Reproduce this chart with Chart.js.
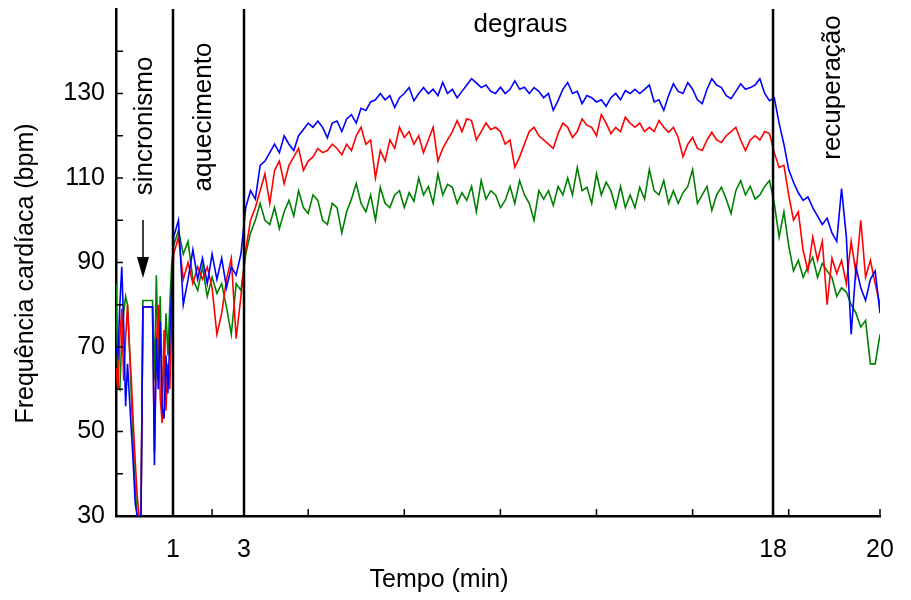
<!DOCTYPE html>
<html><head><meta charset="utf-8">
<script src="https://cdn.jsdelivr.net/npm/chart.js@4.4.1/dist/chart.umd.min.js"></script>
<style>html,body{margin:0;padding:0;background:#fff;}#wrap{width:911px;height:600px;}</style>
</head><body><div id="wrap"><canvas id="c" width="911" height="600"></canvas></div>
<script>
// sample index axis (0..795); phase boundaries labelled in minutes
const time = [
0,2,4,6,8,10,12,14,16,18,20,22,24,26,28,30,32,34,36,38,40,42,44,46,48,50,52,54,56,58,
60,65,70,75,80,85,90,95,100,105,110,115,120,125,130,
135,140,145,150,155,160,165,170,175,180,185,190,195,200,205,
210,215,220,225,230,235,240,245,250,255,260,265,270,275,280,
285,290,295,300,305,310,315,320,325,330,335,340,345,350,355,
360,365,370,375,380,385,390,395,400,405,410,415,420,425,430,
435,440,445,450,455,460,465,470,475,480,485,490,495,500,505,
510,515,520,525,530,535,540,545,550,555,560,565,570,575,580,
585,590,595,600,605,610,615,620,625,630,635,640,645,650,655,
660,665,670,675,680,685,690,695,700,705,710,715,720,725,730,
735,740,745,750,755,760,765,770,775,780,785,790,795];

const blue = [
70,68,80,89,75,56,66,58,50,42,33,30,30,30,79.5,79.5,79.5,79.5,79.5,79.5,42,72,60,76,56,53,68,59,72,85,
96,100,80,86,93,86,91,85,92,86,91,84,89,87,92,
103,107,105,113,114,116,118,116,120,118,116.5,120,121.5,123,122,
123.5,122,119.5,123,123.5,121,124,125,123,126.5,126,128,128.5,130,128.5,
129.5,126.7,129,130,131.4,128.3,130,131.4,130,131,129.5,132.6,130,131,129,
130.5,132,133.5,132.5,131.4,132,130.5,130,131.5,130,131,133,131,131.5,130,
131.4,130.5,129,130,126,128.3,131,132.6,130,130.5,127.6,129.5,129,128,128.5,
127,129,130,128.5,130.7,130,131,130,131,132,128,128.5,126,129.5,132.3,
130.5,130,132.6,131,128.5,127.6,131,133.5,132,131.4,129.5,128.8,130.5,132.3,131,
131.4,132,133.5,130,128.3,129,123,118,112,109,106.5,104.7,105.5,103,101,
99,100.5,97,95,107.5,96,73,88.9,84,81,86,88,78];

const red = [
65,60,72,79,62,72,80,70,62,52,43,35,30,30,79.5,79.5,79.5,79.5,79.5,79.5,45,70,80,58,52,74,55,66,60,78,
92,96,86,90,85,89,86,88.9,84,73,78,86,91,72,82,
93,100,103,107,111,104,111.8,114,108.7,113,115,117,111.8,114,115,
117,116,116.5,118,117,115.5,118,116.5,120,122,118,119,110,116.5,114,
119,117,122,119.6,121,118,120,116,119,122,114,117,119,121,123.6,
121,124,123.6,119,121,123,121.5,122,121,118,119,112.5,115,118,121,
122,120,119,118,117,120.5,123,122,119.6,121,124,122.5,122,120,125,
123,120.5,122,121,124.4,123,122,123,121,122,121,123.6,122,120.8,122,
119.6,115,118,119.6,117,116.5,119,120.8,119,118.4,120,121,122,119,116.5,
119,120,119,121,120.5,116,112.5,113,106,100,102,92.9,88,96,90.5,
95,80,91,87.4,90.5,85,95,87.4,100,86.5,90.5,85,80];

const green = [
85,61,60,72,78,82,80,70,58,47,37,30,30,30,81,81,81,81,81,81,62,87,66,82,60,64,78,68,80,90,
94,97.6,92,95,86,83.4,88.9,82,86.5,82.7,85,79.4,73,85,83.4,
92,97,100,104,100,99,103,98,102,104.7,101,107,103,101.6,106,
104.7,100,99,104,103,97,102,105,108.7,104,102,106,100,107.8,104,
103,106,107,103,106.5,104.5,110,106,108,104,111,106,108.5,107.8,104,
106.5,104.7,108,102,109.4,105,107,106,103,104.7,108,104,109.4,106,104,
100,107,105,107,103.5,108,106,110,106,112.5,107,107.8,104,111,106,
109,107,103,108,103,106,103,107.8,105,112,107,106,109.4,104,107,
104,106.5,108,112,104,106,108,102.3,106,107.8,105,101.6,107,109.4,106,
108,105,106,108,109.4,104,96,102,94,88,90.5,86.5,89,91.2,86.5,
89.8,88,86.5,82,84,83,80,78,74.7,76.3,66,66,73];

const yTickValues = [30,50,70,90,110,130];
const yMinorTicks = [40,50,60,70,80,90,100,110,120,130,140];
const xTickValues = [59.3,133.2,683.7,795];
const xTickLabels = ['1','3','18','20'];
const xMinorTicks = [100,200,300,400,500,600,700,795];
const phaseLines = [59.3,133.2,683.7];
const phaseNames = ['sincronismo','aquecimento','degraus','recuperação'];

const FONT = "'Liberation Sans', Arial, Helvetica, sans-serif";
Chart.defaults.font.family = FONT;
Chart.defaults.color = '#000';

const pts = arr => time.map((t,i)=>({x:t,y:arr[i]}));

const decor = {
  id:'decor',
  afterDatasetsDraw(chart){
    const {ctx, chartArea:a, scales:{x,y}} = chart;
    ctx.save();
    ctx.strokeStyle='#000'; ctx.fillStyle='#000';
    ctx.lineWidth=2.5;
    phaseLines.forEach(t=>{const px=x.getPixelForValue(t);ctx.beginPath();ctx.moveTo(px,a.top);ctx.lineTo(px,a.bottom);ctx.stroke();});
    ctx.lineWidth=1.5;
    xMinorTicks.forEach(t=>{const px=x.getPixelForValue(t);ctx.beginPath();ctx.moveTo(px,a.bottom);ctx.lineTo(px,a.bottom-7);ctx.stroke();});
    yMinorTicks.forEach(v=>{const py=y.getPixelForValue(v);ctx.beginPath();ctx.moveTo(a.left,py);ctx.lineTo(a.left+7,py);ctx.stroke();});
    // arrow
    ctx.beginPath();ctx.moveTo(143,220);ctx.lineTo(143,259);ctx.stroke();
    ctx.beginPath();ctx.moveTo(137,257);ctx.lineTo(149,257);ctx.lineTo(143,278);ctx.closePath();ctx.fill();
    // phase labels
    ctx.font = '26px '+FONT;
    ctx.textAlign='center'; ctx.textBaseline='alphabetic';
    const rot=(txt,bx,cy)=>{ctx.save();ctx.translate(bx,cy);ctx.rotate(-Math.PI/2);ctx.fillText(txt,0,0);ctx.restore();};
    rot(phaseNames[0],152,126);
    rot(phaseNames[1],211,117);
    ctx.fillText(phaseNames[2],520.5,32);
    rot(phaseNames[3],839.5,87.5);
    // axis titles
    ctx.font='25px '+FONT;
    ctx.fillText('Tempo (min)',439,587);
    rot('Frequência cardíaca (bpm)',33,273.5);
    ctx.restore();
  }
};

new Chart(document.getElementById('c'),{
  type:'line',
  data:{datasets:[
    {label:'azul',data:pts(blue),borderColor:'#0000ff',borderWidth:1.6,pointRadius:0,tension:0},
    {label:'vermelho',data:pts(red),borderColor:'#ff0000',borderWidth:1.6,pointRadius:0,tension:0},
    {label:'verde',data:pts(green),borderColor:'#008000',borderWidth:1.6,pointRadius:0,tension:0}
  ]},
  options:{
    responsive:false, animation:false, devicePixelRatio:1,
    layout:{padding:{left:0,right:31,top:9,bottom:0}},
    plugins:{legend:{display:false},tooltip:{enabled:false}},
    scales:{
      x:{type:'linear',min:0,max:795,
        afterBuildTicks:s=>{s.ticks=xTickValues.map(v=>({value:v}));},
        ticks:{callback:(v,i)=>xTickLabels[i],font:{size:25},color:'#000',padding:19,maxRotation:0,autoSkip:false},
        grid:{display:false,drawTicks:false},
        border:{display:true,color:'#000',width:2.5},
        afterFit:s=>{s.height=84;s.paddingLeft=0;s.paddingRight=0;}
      },
      y:{type:'linear',min:30,max:150,
        afterBuildTicks:s=>{s.ticks=yTickValues.map(v=>({value:v}));},
        ticks:{font:{size:25},color:'#000',padding:11},
        grid:{display:false,drawTicks:false},
        border:{display:true,color:'#000',width:2.5},
        afterFit:s=>{s.width=116;s.paddingTop=0;s.paddingBottom=0;}
      }
    }
  },
  plugins:[decor]
});
</script>
</body></html>
